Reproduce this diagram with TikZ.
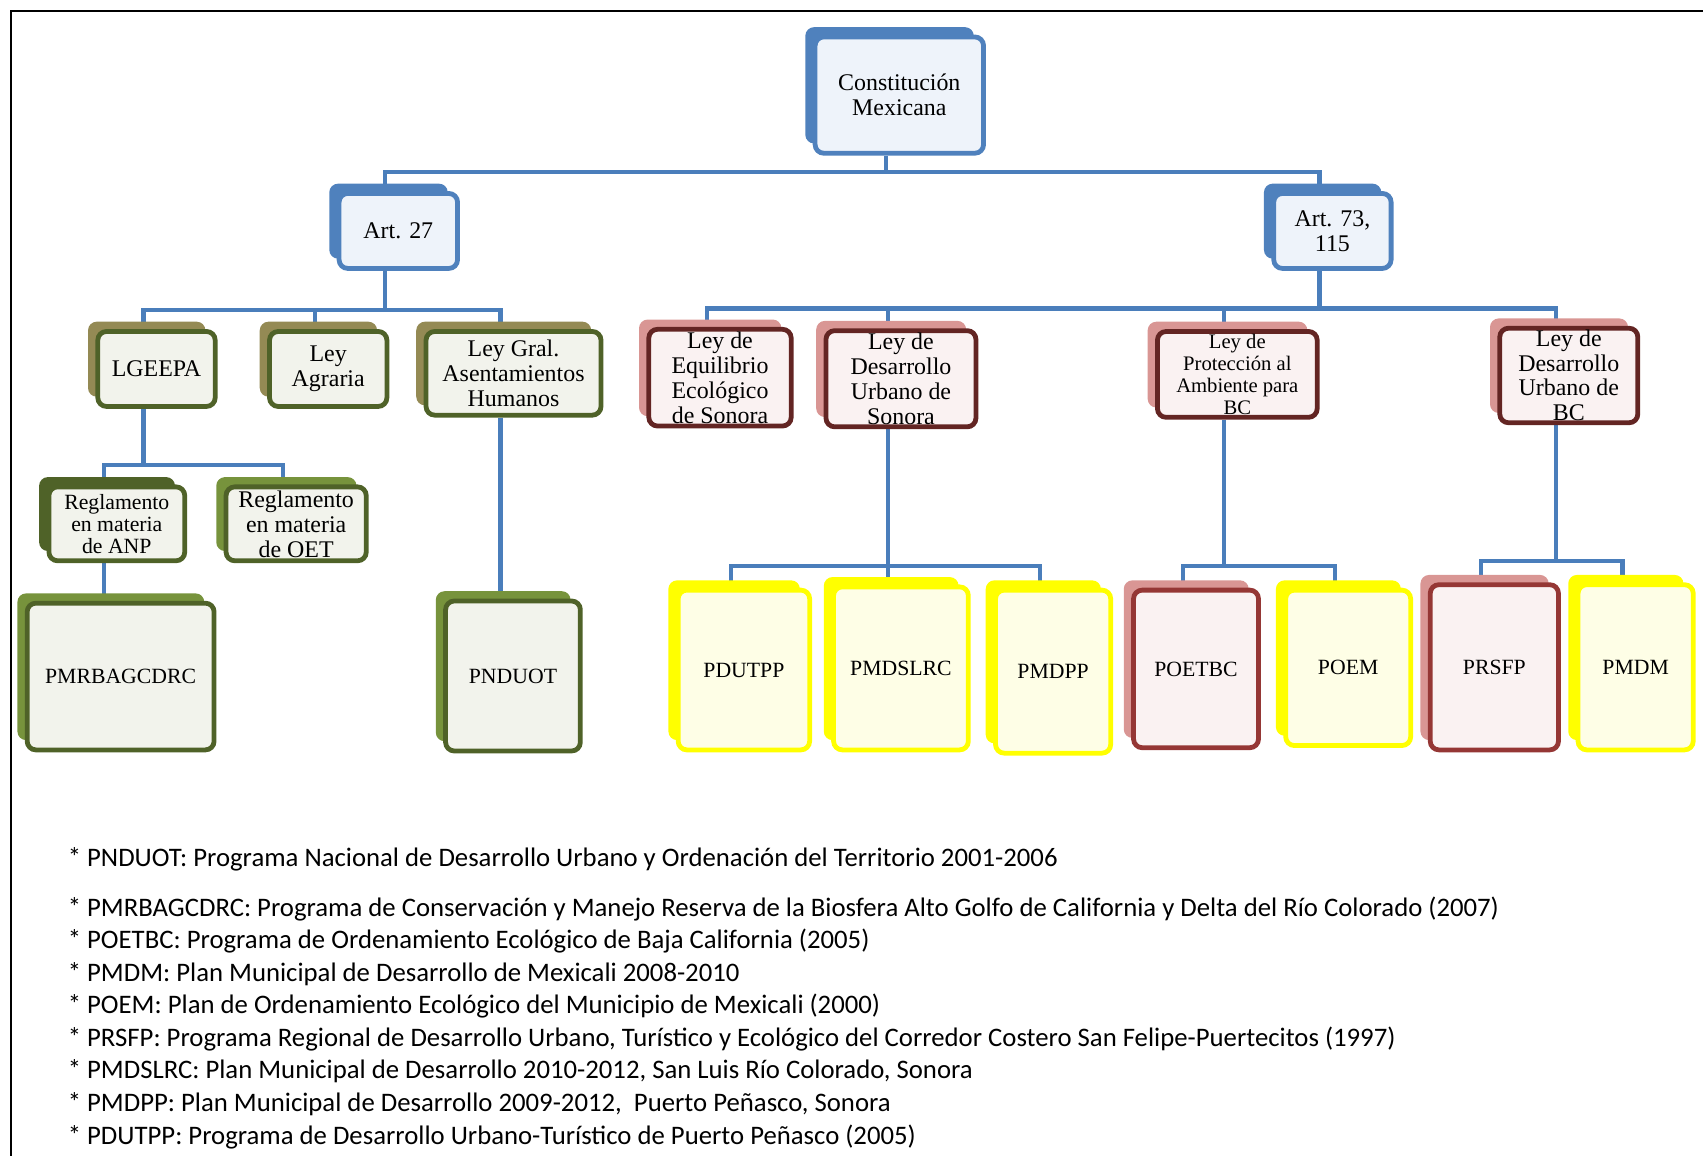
\documentclass[tikz,border=0pt]{standalone}
\usepackage{fontspec}
\setmainfont{Liberation Serif}
\newfontfamily\legfont{Carlito}
\usetikzlibrary{positioning,shadows,backgrounds}

\definecolor{azulB}{HTML}{4F81BD}
\definecolor{azulF}{HTML}{EEF3FA}
\definecolor{ligaC}{HTML}{4A7EBB}
\definecolor{olivoS}{HTML}{948A54}
\definecolor{verdeB}{HTML}{4F6228}
\definecolor{verdeS}{HTML}{77933C}
\definecolor{verdeF}{HTML}{F2F3EC}
\definecolor{rojoB}{HTML}{632523}
\definecolor{rojoM}{HTML}{953735}
\definecolor{rojoS}{HTML}{D99694}
\definecolor{rojoF}{HTML}{FAF2F2}
\definecolor{amarB}{HTML}{FFFF00}
\definecolor{amarF}{HTML}{FEFEE6}

\begin{document}
\begin{tikzpicture}[x=0.5pt,y=-0.5pt,
caja/.style={rectangle,rounded corners=4pt,line width=2.2pt,align=center,inner sep=1pt,font=\fontsize{11}{11.5}\selectfont},
sombra/.style={general shadow={draw=none,fill=#1,shadow xshift=-4.5pt,shadow yshift=4.5pt}},
tam/.style 2 args={minimum width=#1,minimum height=#2},
azul/.style={caja,draw=azulB,fill=azulF,sombra=azulB},
olivo/.style={caja,draw=verdeB,fill=verdeF,sombra=olivoS},
verde/.style={caja,draw=verdeB,fill=verdeF,sombra=verdeS},
oscuro/.style={caja,draw=verdeB,fill=verdeF,sombra=verdeB},
rojo/.style={caja,draw=rojoB,fill=rojoF,sombra=rojoS},
rosa/.style={caja,draw=rojoM,fill=rojoF,sombra=rojoS},
amar/.style={caja,draw=amarB,fill=amarF,sombra=amarB},
sigla/.style={font=\fontsize{10}{12}\selectfont},
liga/.style={draw=ligaC,line width=2pt},
nota/.style={anchor=west,inner sep=0pt,font=\legfont\fontsize{12.3}{14}\selectfont}]

\useasboundingbox (0,0) rectangle (1567,1064);
\draw[line width=1pt] (1567,10) -| (10,1064);

% nivel 1 y 2
\node[azul,tam={77.5pt}{53.5pt}] (cm) at (827.5,87.5) {Constitución\\Mexicana};
\node[azul,tam={54.5pt}{34.5pt}] (a27) at (366.5,212.5) {Art. 27};
\node[azul,tam={54pt}{34.5pt}] (a73) at (1226,212.5) {Art. 73,\\115};

% leyes
\node[olivo,tam={54pt}{34.5pt}] (lg) at (144,339.5) {LGEEPA};
\node[olivo,tam={54pt}{34.5pt}] (la) at (302,339.5) {Ley\\Agraria};
\node[olivo,tam={80.5pt}{38.5pt}] (lgah) at (472.5,343.5) {Ley Gral.\\Asentamientos\\Humanos};
\node[rojo,tam={65.5pt}{44.5pt}] (lees) at (662.5,347.5) {Ley de\\Equilibrio\\Ecológico\\de Sonora};
\node[rojo,tam={69pt}{43.5pt}] (ldus) at (829,348.5) {Ley de\\Desarrollo\\Urbano de\\Sonora};
\node[rojo,tam={73.5pt}{39.5pt},font=\fontsize{9.5}{10}\selectfont] (lpa) at (1138.5,344.5) {Ley de\\Protección al\\Ambiente para\\BC};
\node[rojo,tam={63.5pt}{40.5pt},font=\fontsize{11}{11.25}\selectfont] (ldub) at (1443.5,345.5) {Ley de\\Desarrollo\\Urbano de\\BC};

% reglamentos
\node[oscuro,tam={62.5pt}{34pt},font=\fontsize{10}{10}\selectfont] (anp) at (107.5,482) {Reglamento\\en materia\\de ANP};
\node[verde,tam={64.5pt}{34pt}] (oet) at (272.5,482) {Reglamento\\en materia\\de OET};

% programas
\node[verde,sigla,tam={86pt}{67.5pt}] (pmr) at (111,622.5) {PMRBAGCDRC};
\node[verde,sigla,tam={62pt}{69pt}] (pnd) at (472,622) {PNDUOT};
\node[amar,sigla,tam={60.5pt}{73.5pt}] (pdu) at (684.5,616.5) {PDUTPP};
\node[amar,sigla,tam={62pt}{75pt}] (pmds) at (829,615) {PMDSLRC};
\node[amar,sigla,tam={53pt}{75pt}] (pmdp) at (969,618) {PMDPP};
\node[rosa,sigla,tam={57.5pt}{72.5pt}] (poet) at (1100.5,615.5) {POETBC};
\node[amar,sigla,tam={57.5pt}{71.5pt}] (poem) at (1240.5,614.5) {POEM};
\node[rosa,sigla,tam={59pt}{76pt}] (prs) at (1375,614) {PRSFP};
\node[amar,sigla,tam={53pt}{76pt}] (pmdm) at (1505,614) {PMDM};

% barras
\coordinate (b1) at (0,158);
\coordinate (b2) at (0,285);
\coordinate (b3) at (0,284);
\coordinate (b4) at (0,428);
\coordinate (b5) at (0,521);
\coordinate (b6) at (0,516);

\begin{scope}[on background layer]
\begin{scope}[transform canvas={xshift=-6pt}]
\draw[liga] (cm.south) -- (cm.south |- b1);
\draw[liga] (a27.north) |- (a73.north |- b1) -- (a73.north);
\draw[liga] (a27.south) -- (a27.south |- b2);
\draw[liga] (lg.north) |- (lgah.north |- b2) -- (lgah.north);
\draw[liga] (la.north) -- (la.north |- b2);
\draw[liga] (a73.south) -- (a73.south |- b3);
\draw[liga] (lees.north) |- (ldub.north |- b3) -- (ldub.north);
\draw[liga] (ldus.north) -- (ldus.north |- b3);
\draw[liga] (lpa.north) -- (lpa.north |- b3);
\draw[liga] (lg.south) -- (lg.south |- b4);
\draw[liga] (anp.north) |- (oet.north |- b4) -- (oet.north);
\draw[liga] (anp.south) -- (anp.south |- pmr.north);
\draw[liga] (lgah.south) -- (lgah.south |- pnd.north);
\draw[liga] (ldus.south) -- (ldus.south |- b5);
\draw[liga] (pdu.north) |- (pmdp.north |- b5) -- (pmdp.north);
\draw[liga] (pmds.north) -- (pmds.north |- b5);
\draw[liga] (lpa.south) -- (lpa.south |- b5);
\draw[liga] (poet.north) |- (poem.north |- b5) -- (poem.north);
\draw[liga] (ldub.south) -- (ldub.south |- b6);
\draw[liga] (prs.north) |- (pmdm.north |- b6) -- (pmdm.north);
\end{scope}
\end{scope}

% notas
\node[nota] (n1) at (62,791) {* PNDUOT: Programa Nacional de Desarrollo Urbano y Ordenación del Territorio 2001-2006};
\node[nota] (n2) at (62,836) {* PMRBAGCDRC: Programa de Conservación y Manejo Reserva de la Biosfera Alto Golfo de California y Delta del Río Colorado (2007)};
\node[nota] (n3) at (62,866) {* POETBC: Programa de Ordenamiento Ecológico de Baja California (2005)};
\node[nota] (n4) at (62,896) {* PMDM: Plan Municipal de Desarrollo de Mexicali 2008-2010};
\node[nota] (n5) at (62,926) {* POEM: Plan de Ordenamiento Ecológico del Municipio de Mexicali (2000)};
\node[nota] (n6) at (62,956) {* PRSFP: Programa Regional de Desarrollo Urbano, Turístico y Ecológico del Corredor Costero San Felipe-Puertecitos (1997)};
\node[nota] (n7) at (62,986) {* PMDSLRC: Plan Municipal de Desarrollo 2010-2012, San Luis Río Colorado, Sonora};
\node[nota] (n8) at (62,1016) {* PMDPP: Plan Municipal de Desarrollo 2009-2012,\ \ Puerto Peñasco, Sonora};
\node[nota] (n9) at (62,1046) {* PDUTPP: Programa de Desarrollo Urbano-Turístico de Puerto Peñasco (2005)};
\end{tikzpicture}
\end{document}
